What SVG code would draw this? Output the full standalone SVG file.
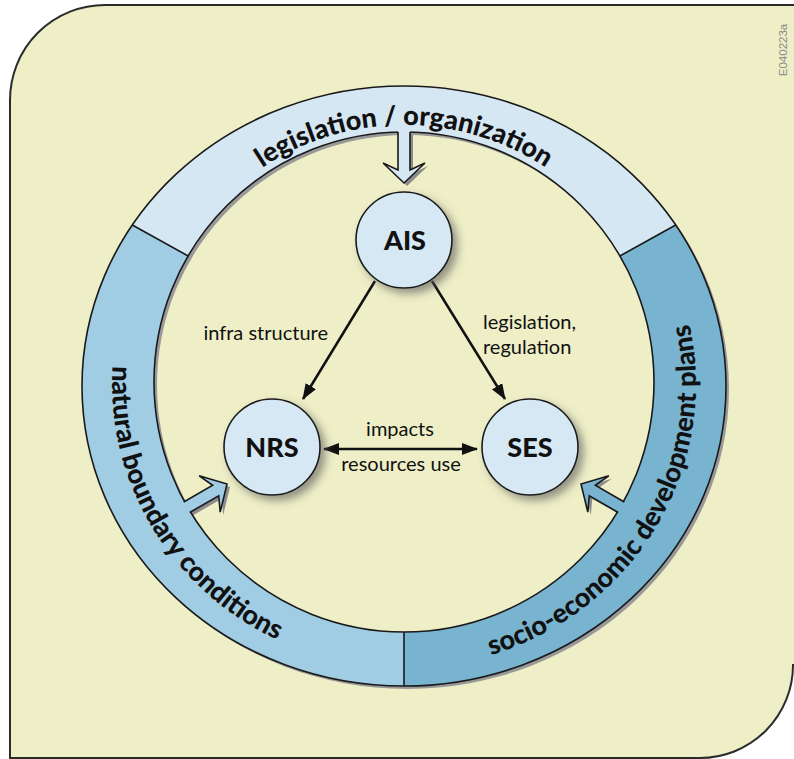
<svg xmlns="http://www.w3.org/2000/svg" width="794" height="759" viewBox="0 0 794 759">
<defs>
<style>
.bg{fill:#EEEFC7;stroke:#2b2b2b;stroke-width:2}
.edge{fill:none;stroke:#1a1a1a;stroke-width:1.6}
.node{fill:#D6E8F4;stroke:#1a1a1a;stroke-width:1.6}
.nlab{font-family:Lato,"Open Sans",sans-serif;font-weight:900;font-size:27px;fill:#111;text-anchor:middle}
.rlab{font-family:Lato,"Open Sans",sans-serif;font-weight:900;font-size:27px;fill:#111}
.lab{font-family:Lato,"Open Sans",sans-serif;font-size:20px;fill:#111}
.con{stroke:#111;stroke-width:2.5;fill:none}
.ashadow{fill:#8c8c8c}
.astroke{fill:none;stroke:#1a1a1a;stroke-width:1.6;stroke-linejoin:miter}
</style>
<filter id="sh" x="-30%" y="-30%" width="160%" height="160%">
<feDropShadow dx="5" dy="5" stdDeviation="4" flood-color="#555" flood-opacity="0.6"/>
</filter>
<marker id="ah" viewBox="0 0 16 12" refX="15" refY="6" markerWidth="16" markerHeight="12" markerUnits="userSpaceOnUse" orient="auto-start-reverse">
<path d="M0 0 L16 6 L0 12 Z" fill="#111"/>
</marker>
<path id="pTop" d="M 147 382 A 257 257 0 0 1 661 382"/>
<path id="pLeft" d="M 151.1 242 A 292 284 0 0 0 404 668"/>
<path id="pRight" d="M 404 668 A 292 284 0 0 0 656.9 242"/>
</defs>

<path id="background" class="bg" d="M 10 100 A 95 95 0 0 1 105 5 L 796 5 L 796 665 L 793 665 A 93 93 0 0 1 700 758 L 10 758 Z"/>
<text x="0" y="0" transform="translate(787,50) rotate(-90)" font-family="'Liberation Sans',sans-serif" font-size="11.5" fill="#8a8a8a" text-anchor="middle">E040223a</text>

<g id="ring">
<path fill="#999" fill-rule="evenodd" transform="translate(3,3)" d="M 82 386 A 322 300 0 1 1 726 386 A 322 300 0 1 1 82 386 Z M 154 382 A 250 250 0 1 0 654 382 A 250 250 0 1 0 154 382 Z"/>
<g id="arrow-shadows" class="ashadow">
<path transform="translate(407,186)" d="M -6 -51 L -6 -13 L -21 -20 L 0 0 L 21 -20 L 6 -13 L 6 -51 Z"/>
<path transform="translate(230,487) rotate(-120)" d="M -6 -46 L -6 -13 L -21 -20 L 0 0 L 21 -20 L 6 -13 L 6 -46 Z"/>
<path transform="translate(584,487) rotate(120)" d="M -6 -46 L -6 -13 L -21 -20 L 0 0 L 21 -20 L 6 -13 L 6 -46 Z"/>
</g>
<path id="seg-top" fill="#D5E7F3" d="M 132.3 225 A 322 300 0 0 1 675.7 225 L 619.9 256 A 250 250 0 0 0 188.1 256 Z"/>
<path id="seg-right" fill="#78B3D0" d="M 675.7 225 A 322 300 0 0 1 404 686 L 404 632 A 250 250 0 0 0 619.9 256 Z"/>
<path id="seg-left" fill="#A0CDE3" d="M 404 686 A 322 300 0 0 1 132.3 225 L 188.1 256 A 250 250 0 0 0 404 632 Z"/>
<ellipse class="edge" cx="404" cy="386" rx="322" ry="300"/>
<circle class="edge" cx="404" cy="382" r="250"/>
<path class="edge" d="M 132.3 225 L 188.1 256 M 675.7 225 L 619.9 256 M 404 686 L 404 632"/>
</g>

<g id="ring-arrows">
<g id="arrow-top" transform="translate(404,183)">
<path fill="#D5E7F3" d="M -6 -60 L -6 -13 L -21 -20 L 0 0 L 21 -20 L 6 -13 L 6 -60 Z"/>
<path class="astroke" d="M -6 -51 L -6 -13 L -21 -20 L 0 0 L 21 -20 L 6 -13 L 6 -51"/>
</g>
<g id="arrow-nrs" transform="translate(227,484) rotate(-120)">
<path fill="#A0CDE3" d="M -6 -56 L -6 -13 L -21 -20 L 0 0 L 21 -20 L 6 -13 L 6 -56 Z"/>
<path class="astroke" d="M -6 -46.5 L -6 -13 L -21 -20 L 0 0 L 21 -20 L 6 -13 L 6 -46.5"/>
</g>
<g id="arrow-ses" transform="translate(581,484) rotate(120)">
<path fill="#78B3D0" d="M -6 -56 L -6 -13 L -21 -20 L 0 0 L 21 -20 L 6 -13 L 6 -56 Z"/>
<path class="astroke" d="M -6 -46.5 L -6 -13 L -21 -20 L 0 0 L 21 -20 L 6 -13 L 6 -46.5"/>
</g>
</g>

<g id="ring-labels">
<text class="rlab"><textPath href="#pTop" startOffset="50%" text-anchor="middle">legislation / organization</textPath></text>
<text class="rlab"><textPath href="#pLeft" startOffset="50%" text-anchor="middle">natural boundary conditions</textPath></text>
<text class="rlab"><textPath href="#pRight" startOffset="50%" text-anchor="middle">socio-economic development plans</textPath></text>
</g>

<g id="connectors">
<path class="con" d="M 375 281 L 303 399" marker-end="url(#ah)"/>
<path class="con" d="M 432 281 L 505 399" marker-end="url(#ah)"/>
<path class="con" d="M 324 449 L 477 449" marker-start="url(#ah)" marker-end="url(#ah)"/>
<text class="lab" x="328" y="340" text-anchor="end">infra structure</text>
<text class="lab" x="483" y="329">legislation,</text>
<text class="lab" x="483" y="354">regulation</text>
<text class="lab" x="400" y="436" text-anchor="middle">impacts</text>
<text class="lab" x="401" y="471" text-anchor="middle">resources use</text>
</g>

<g id="AIS">
<circle class="node" cx="404" cy="240" r="48" filter="url(#sh)"/>
<text class="nlab" x="405" y="250">AIS</text>
</g>
<g id="NRS">
<circle class="node" cx="272" cy="447" r="48" filter="url(#sh)"/>
<text class="nlab" x="272" y="457">NRS</text>
</g>
<g id="SES">
<circle class="node" cx="530" cy="447" r="48" filter="url(#sh)"/>
<text class="nlab" x="530" y="457">SES</text>
</g>
</svg>
